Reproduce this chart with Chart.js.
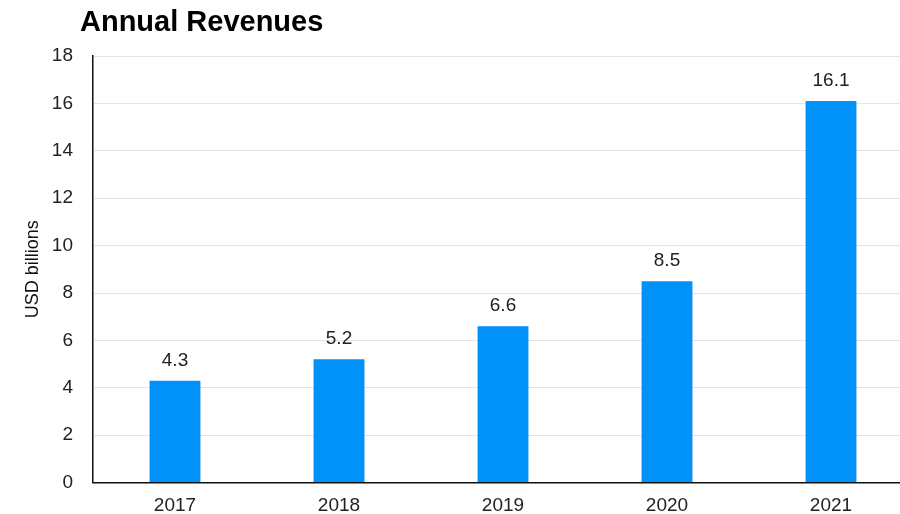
<!DOCTYPE html>
<html>
<head>
<meta charset="utf-8">
<script src="https://cdn.jsdelivr.net/npm/chart.js@4"></script>
<style>
  html, body { margin: 0; padding: 0; background: #fff; overflow: hidden; }
  #wrap { width: 913px; height: 514px; }
</style>
</head>
<body>
<div id="wrap"><canvas id="revChart"></canvas></div>
<script>
var years = ['2017', '2018', '2019', '2020', '2021'];
var revenues = [4.3, 5.2, 6.6, 8.5, 16.1];
var chartTitle = 'Annual Revenues';
var yAxisLabel = 'USD billions';

var fontFamily = '"Liberation Sans", Arial, sans-serif';

// title + value labels drawn on the canvas
var extrasPlugin = {
    id: 'extras',
    afterDatasetsDraw: function(chart) {
        var ctx = chart.ctx;
        var meta = chart.getDatasetMeta(0);
        ctx.save();
        ctx.fillStyle = '#222';
        ctx.font = '19px ' + fontFamily;
        ctx.textAlign = 'center';
        ctx.textBaseline = 'alphabetic';
        meta.data.forEach(function(bar, i) {
            ctx.fillText(revenues[i].toFixed(1), bar.x, bar.y - 15);
        });
        ctx.font = 'bold 29px ' + fontFamily;
        ctx.fillStyle = '#000';
        ctx.textAlign = 'left';
        ctx.fillText(chartTitle, 80, 31);
        ctx.restore();
    }
};

var ctx = document.getElementById('revChart').getContext('2d');
var chart = new Chart(ctx, {
    type: 'bar',
    data: {
        labels: years,
        datasets: [{
            data: revenues,
            backgroundColor: '#0091f9',
            barPercentage: 0.62,
            categoryPercentage: 0.5
        }]
    },
    options: {
        responsive: true,
        maintainAspectRatio: false,
        animation: false,
        layout: { padding: { top: 56, left: 0, right: 0, bottom: 0 } },
        plugins: {
            legend: { display: false },
            tooltip: { enabled: false }
        },
        scales: {
            x: {
                grid: { display: false, drawTicks: false },
                border: { color: '#111', width: 1.5 },
                ticks: { color: '#222', font: { size: 19, family: fontFamily }, padding: 12 },
                afterFit: function(scale) { scale.height = 31; }
            },
            y: {
                min: 0,
                max: 18,
                ticks: { stepSize: 2, color: '#222', font: { size: 19, family: fontFamily }, padding: 20 },
                grid: { color: '#e4e4e4', lineWidth: 1, drawTicks: false },
                border: { color: '#111', width: 1.5 },
                title: {
                    display: true,
                    text: yAxisLabel,
                    color: '#111',
                    font: { size: 18, family: fontFamily },
                    padding: { top: 22, bottom: 0 }
                },
                afterFit: function(scale) { scale.width = 93; }
            }
        }
    },
    plugins: [extrasPlugin]
});
</script>
</body>
</html>
